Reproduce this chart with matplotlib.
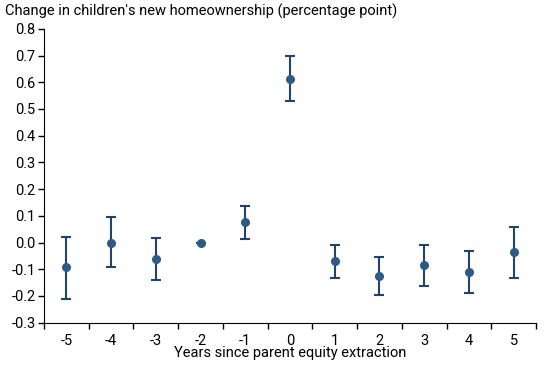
import matplotlib.pyplot as plt
import numpy as np

plt.rcParams['font.family'] = ['Roboto', 'DejaVu Sans']

years = [-5, -4, -3, -2, -1, 0, 1, 2, 3, 4, 5]
estimate = [-0.093, 0.0, -0.063, 0.0, 0.075, 0.612, -0.071, -0.124, -0.086, -0.111, -0.037]
upper = [0.022, 0.097, 0.018, 0.0, 0.135, 0.698, -0.010, -0.056, -0.011, -0.033, 0.057]
lower = [-0.210, -0.093, -0.142, 0.0, 0.015, 0.528, -0.134, -0.195, -0.162, -0.190, -0.131]
y_ticks = [-0.3, -0.2, -0.1, 0.0, 0.1, 0.2, 0.3, 0.4, 0.5, 0.6, 0.7, 0.8]

fig = plt.figure(figsize=(5.5, 3.65), dpi=100)
ax = fig.add_axes([0.08, 0.116, 0.8945, 0.805])

x = np.arange(len(years))
est = np.array(estimate)
yerr = [est - np.array(lower), np.array(upper) - est]
ax.errorbar(x, est, yerr=yerr, fmt='o', color='#2e5a87', ecolor='#23446a',
            markersize=5.5, elinewidth=1.5, capsize=3.3, capthick=1.5)

ax.set_xlim(-0.5, len(years) - 0.5)
ax.set_ylim(-0.3, 0.8)
ax.set_yticks(y_ticks)
ax.set_yticklabels(['%.1f' % v for v in y_ticks])
ax.set_xticks(x)
ax.set_xticklabels([str(v) for v in years])
ax.set_xticks(np.arange(-0.5, len(years)), minor=True)
ax.tick_params(axis='x', which='major', length=0, pad=8, labelsize=10.5)
ax.tick_params(axis='x', which='minor', length=4, width=1)
ax.tick_params(axis='y', length=4, width=1, pad=2, labelsize=10.5)

ax.spines['top'].set_visible(False)
ax.spines['right'].set_visible(False)
ax.set_xlabel('Years since parent equity extraction', fontsize=10.5, labelpad=-1)
fig.text(0.009, 0.968, "Change in children's new homeownership (percentage point)",
         fontsize=10.5, va='center', ha='left')

fig.savefig('out.png', dpi=100)
